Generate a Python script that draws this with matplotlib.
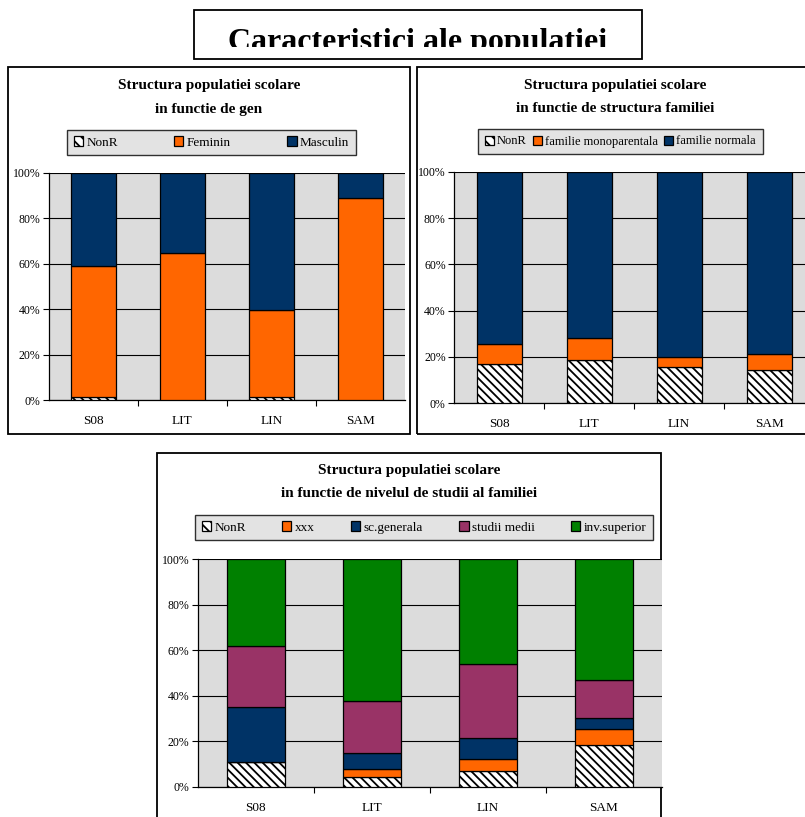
import numpy as np
import matplotlib.pyplot as plt
from matplotlib.patches import Rectangle, Patch

plt.rcParams['font.family'] = ['Liberation Serif', 'DejaVu Serif']
plt.rcParams['hatch.linewidth'] = 1.3

W, H = 805, 817

# Data (percent)
categories = ['S08', 'LIT', 'LIN', 'SAM']

gen_nonr = [1.5, 0.0, 1.5, 0.0]
gen_feminin = [57.5, 64.5, 38.1, 88.7]
gen_masculin = [41.0, 35.5, 60.4, 11.3]

fam_nonr = [17.0, 18.4, 15.6, 14.4]
fam_mono = [8.4, 9.6, 4.3, 6.9]
fam_normala = [74.6, 72.0, 80.1, 78.7]

st_nonr = [11.0, 4.1, 7.0, 18.3]
st_xxx = [0.0, 3.8, 5.3, 6.9]
st_generala = [23.9, 7.1, 9.0, 4.9]
st_medii = [27.0, 22.5, 32.5, 16.8]
st_superior = [38.1, 62.5, 46.2, 53.1]

ORANGE = '#FF6600'
NAVY = '#003366'
PURPLE = '#993366'
GREEN = '#008000'
BG = '#DCDCDC'
HATCH = '\\\\\\\\'


def frac(x0, y0, x1, y1):
    # pixel box (top-left origin) -> figure fraction [l, b, w, h]
    return [x0 / W, 1 - y1 / H, (x1 - x0) / W, (y1 - y0) / H]


fig = plt.figure(figsize=(W / 100, H / 100), dpi=100)


def box(x0, y0, x1, y1, lw=1.3):
    l, b, w, h = frac(x0, y0, x1, y1)
    fig.add_artist(Rectangle((l, b), w, h, transform=fig.transFigure,
                             fill=False, edgecolor='black', lw=lw, zorder=0))


def chart(plot_px, box_px, title, title_y, legend_px, series, labels, colors,
          expand=True):
    box(*box_px)
    cx = (box_px[0] + box_px[2]) / 2 / W
    for line, ty in zip(title, title_y):
        fig.text(cx, 1 - ty / H, line, ha='center', va='center',
                 fontsize=11, fontweight='bold')

    ax = fig.add_axes(frac(*plot_px))
    ax.set_facecolor(BG)
    x = np.arange(len(categories))
    bottom = np.zeros(len(categories))
    handles = []
    for vals, lab, col in zip(series, labels, colors):
        vals = np.array(vals)
        if col is None:
            ax.bar(x, vals, 0.5, bottom=bottom, color='white', edgecolor='black',
                   hatch=HATCH, lw=0.9, zorder=3)
            handles.append(Patch(facecolor='white', edgecolor='black', hatch='\\\\\\', lw=0.9))
        else:
            ax.bar(x, vals, 0.5, bottom=bottom, color=col, edgecolor='black',
                   lw=0.9, zorder=3)
            handles.append(Patch(facecolor=col, edgecolor='black', lw=0.9))
        bottom += vals

    ax.set_xlim(-0.5, len(categories) - 0.5)
    ax.set_ylim(0, 100)
    ax.set_yticks(np.arange(0, 101, 20))
    ax.set_yticklabels([f'{v}%' for v in range(0, 101, 20)], fontsize=8.5)
    ax.yaxis.grid(True, color='black', lw=0.8, zorder=1)
    ax.set_axisbelow(True)
    ax.set_xticks(x)
    ax.set_xticklabels(categories, fontsize=9.5)
    ax.tick_params(axis='x', length=0, pad=11)
    ax.set_xticks(np.arange(0.5, len(categories) - 0.5, 1), minor=True)
    ax.tick_params(axis='x', which='minor', length=4, direction='out', width=0.8)
    ax.tick_params(axis='y', length=4, width=0.8, pad=2)
    for s in ['top', 'right']:
        ax.spines[s].set_visible(False)
    ax.spines['left'].set_color('black')
    ax.spines['bottom'].set_color('black')
    ax.spines['left'].set_linewidth(0.9)
    ax.spines['bottom'].set_linewidth(0.9)

    if expand:
        leg = ax.legend(handles, labels, loc='center', ncol=len(labels),
                        bbox_to_anchor=frac(*legend_px), bbox_transform=fig.transFigure,
                        mode='expand', fontsize=9.5, frameon=True, fancybox=False,
                        borderaxespad=0, handlelength=0.7, handleheight=0.7,
                        handletextpad=0.25, columnspacing=0.4, borderpad=0.5)
    else:
        l, b, w, h = frac(*legend_px)
        leg = ax.legend(handles, labels, loc='center', ncol=len(labels),
                        bbox_to_anchor=(l + w / 2, b + h / 2), bbox_transform=fig.transFigure,
                        fontsize=9, frameon=True, fancybox=False,
                        borderaxespad=0, handlelength=0.7, handleheight=0.7,
                        handletextpad=0.25, columnspacing=0.5, borderpad=0.55)
    leg.get_frame().set_facecolor(BG)
    leg.get_frame().set_edgecolor('black')
    leg.get_frame().set_linewidth(1.0)
    return ax


# Main title box, text clipped inside as in the original
box(194, 9.5, 642, 59)
t = fig.text((194 + 642) / 2 / W, 1 - 50 / H, 'Caracteristici ale populatiei',
             ha='center', va='baseline', fontsize=23, fontweight='bold')
cl, cb, cw, ch = frac(194, 9.5, 642, 47)
clip = Rectangle((cl, cb), cw, ch, transform=fig.transFigure, visible=False)
fig.add_artist(clip)
t.set_clip_path(clip)

chart((48.7, 172.7, 405, 400), (8, 67, 410, 434),
      ['Structura populatiei scolare', 'in functie de gen'], [85, 109],
      (67, 128, 356, 157),
      [gen_nonr, gen_feminin, gen_masculin],
      ['NonR', 'Feminin', 'Masculin'], [None, ORANGE, NAVY])

chart((454, 172, 814, 403), (417, 67, 813, 434),
      ['Structura populatiei scolare', 'in functie de structura familiei'], [85, 108],
      (477, 127, 764, 156),
      [fam_nonr, fam_mono, fam_normala],
      ['NonR', 'familie monoparentala', 'familie normala'], [None, ORANGE, NAVY],
      expand=False)

chart((197.7, 559, 661.7, 786.7), (157, 453, 661, 830),
      ['Structura populatiei scolare', 'in functie de nivelul de studii al familiei'],
      [470.7, 494],
      (195, 513, 653, 542),
      [st_nonr, st_xxx, st_generala, st_medii, st_superior],
      ['NonR', 'xxx', 'sc.generala', 'studii medii', 'inv.superior'],
      [None, ORANGE, NAVY, PURPLE, GREEN])

fig.savefig('out.png', dpi=100)
